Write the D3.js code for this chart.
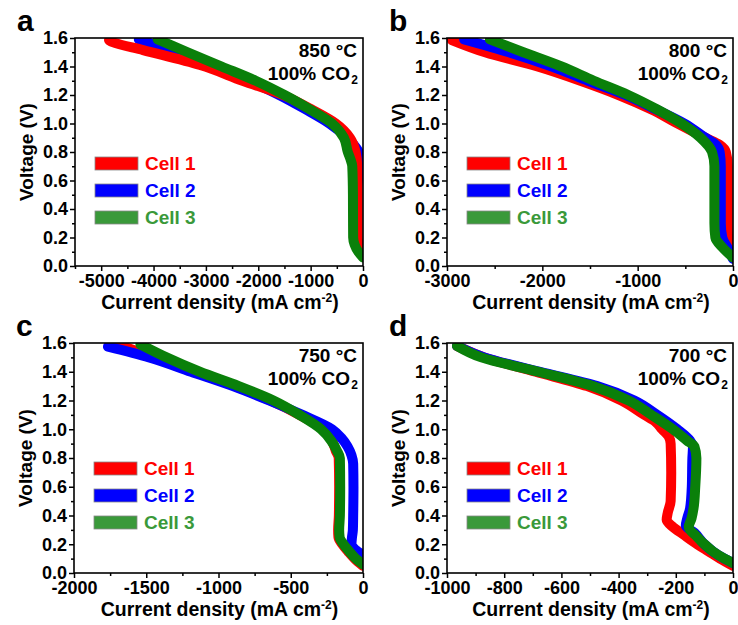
<!DOCTYPE html>
<html><head><meta charset="utf-8">
<script src="https://cdn.jsdelivr.net/npm/d3@7/dist/d3.min.js"></script>
<style>body{margin:0;background:#fff}svg{display:block}text{font-family:"Liberation Sans",Arial,sans-serif;font-weight:bold}</style>
</head><body><svg id="c" width="738" height="625"></svg>
<script>
// ---------- data: [current density (mA cm-2), voltage (V)] ----------
const cellNames = ["Cell 1", "Cell 2", "Cell 3"];
const temps = ["850 °C", "800 °C", "750 °C", "700 °C"];
const panelLetters = ["a", "b", "c", "d"];
const yTicks = [0.0, 0.2, 0.4, 0.6, 0.8, 1.0, 1.2, 1.4, 1.6];
const xTicksA = [-5000, -4000, -3000, -2000, -1000, 0];
const xTicksB = [-3000, -2000, -1000, 0];
const xTicksC = [-2000, -1500, -1000, -500, 0];
const xTicksD = [-1000, -800, -600, -400, -200, 0];

const a850_cell1 = [[-4850,1.585],[-4775,1.57],[-4200,1.515],[-3110,1.41],[-2300,1.3],[-1530,1.2],[-990,1.1],[-520,1.0],[-250,0.9],[-140,0.8],[-110,0.7],[-100,0.5],[-100,0.3],[-100,0.2],[-80,0.15],[-30,0.12],[0,0.11]];
const a850_cell2 = [[-4280,1.59],[-3550,1.5],[-2850,1.4],[-2180,1.3],[-1600,1.2],[-1100,1.1],[-640,1.0],[-300,0.9],[-80,0.8],[-30,0.75],[-60,0.68],[-110,0.55],[-120,0.3],[-110,0.18],[-50,0.11],[0,0.08]];
const a850_cell3 = [[-3920,1.59],[-3350,1.5],[-2700,1.4],[-2050,1.3],[-1500,1.2],[-1020,1.1],[-590,1.0],[-365,0.9],[-290,0.8],[-240,0.75],[-205,0.7],[-192,0.5],[-190,0.3],[-188,0.2],[-160,0.15],[-90,0.1],[0,0.06]];

const b800_cell1 = [[-2950,1.586],[-2600,1.5],[-2050,1.4],[-1600,1.3],[-1200,1.2],[-860,1.1],[-580,1.0],[-290,0.9],[-140,0.85],[-75,0.8],[-55,0.7],[-55,0.3],[-50,0.18],[-20,0.14],[0,0.12]];
const b800_cell2 = [[-2820,1.59],[-2350,1.5],[-1900,1.4],[-1520,1.3],[-1130,1.2],[-810,1.1],[-510,1.0],[-290,0.9],[-180,0.85],[-140,0.8],[-128,0.7],[-128,0.3],[-112,0.2],[-50,0.12],[0,0.05]];
const b800_cell3 = [[-2550,1.59],[-2200,1.5],[-1800,1.4],[-1460,1.3],[-1100,1.2],[-800,1.1],[-540,1.0],[-340,0.9],[-220,0.8],[-195,0.7],[-195,0.3],[-185,0.2],[-110,0.13],[0,0.06]];

const c750_cell1 = [[-1700,1.59],[-1440,1.5],[-1160,1.4],[-885,1.3],[-640,1.2],[-440,1.1],[-275,1.0],[-215,0.92],[-188,0.85],[-168,0.8],[-165,0.6],[-167,0.4],[-172,0.3],[-170,0.25],[-143,0.2],[-103,0.15],[-58,0.1],[0,0.05]];
const c750_cell2 = [[-1765,1.575],[-1480,1.5],[-1190,1.4],[-900,1.3],[-650,1.2],[-420,1.1],[-214,1.0],[-150,0.94],[-107,0.88],[-80,0.82],[-68,0.76],[-66,0.6],[-68,0.4],[-70,0.3],[-76,0.25],[-80,0.2],[-50,0.16],[0,0.125]];
const c750_cell3 = [[-1540,1.59],[-1360,1.5],[-1130,1.4],[-860,1.3],[-620,1.2],[-440,1.1],[-290,1.0],[-220,0.92],[-180,0.85],[-160,0.8],[-158,0.6],[-160,0.4],[-165,0.3],[-162,0.25],[-135,0.2],[-95,0.15],[-50,0.1],[0,0.06]];

const d700_cell1 = [[-965,1.58],[-870,1.5],[-690,1.4],[-510,1.3],[-390,1.2],[-310,1.1],[-270,1.05],[-248,1.0],[-225,0.95],[-218,0.9],[-216,0.7],[-218,0.5],[-228,0.42],[-232,0.37],[-210,0.32],[-175,0.27],[-125,0.2],[-85,0.15],[-45,0.1],[0,0.05]];
const d700_cell2 = [[-965,1.58],[-870,1.5],[-675,1.4],[-475,1.3],[-345,1.2],[-265,1.1],[-195,1.0],[-150,0.92],[-140,0.88],[-142,0.8],[-144,0.6],[-150,0.45],[-160,0.38],[-165,0.33],[-135,0.28],[-100,0.2],[-70,0.15],[-30,0.1],[0,0.07]];
const d700_cell3 = [[-965,1.58],[-880,1.5],[-680,1.4],[-490,1.3],[-365,1.2],[-285,1.1],[-210,1.0],[-160,0.92],[-135,0.88],[-128,0.8],[-132,0.6],[-138,0.45],[-145,0.38],[-155,0.32],[-125,0.25],[-100,0.2],[-70,0.15],[-30,0.1],[0,0.07]];

// ---------- layout ----------
const colors = ["#ff0000", "#0000ff", "#0a800a"];
const legendColors = ["#ff0000", "#0000ff", "#3a993a"];
const panels = [
  {left:75,  top:38,  right:363, bottom:266, xDomain:[-5500,0], xTicks:xTicksA, minorStep:500, order:[1,0,2], series:[a850_cell1,a850_cell2,a850_cell3]},
  {left:447, top:38,  right:733, bottom:266, xDomain:[-3000,0], xTicks:xTicksB, minorStep:500, order:[0,1,2], series:[b800_cell1,b800_cell2,b800_cell3]},
  {left:74,  top:343, right:363, bottom:573, xDomain:[-2000,0], xTicks:xTicksC, minorStep:250, order:[0,1,2], series:[c750_cell1,c750_cell2,c750_cell3]},
  {left:447, top:343, right:733, bottom:573, xDomain:[-1000,0], xTicks:xTicksD, minorStep:100, order:[0,1,2], series:[d700_cell1,d700_cell2,d700_cell3]}
];
const FONT = "Liberation Sans, Arial, sans-serif";
const svg = d3.select("#c");

panels.forEach((p, i) => {
  const x = d3.scaleLinear().domain(p.xDomain).range([p.left, p.right]);
  const y = d3.scaleLinear().domain([0, 1.6]).range([p.bottom, p.top]);
  const g = svg.append("g");

  const clipId = "clip" + i;
  svg.append("clipPath").attr("id", clipId).append("rect")
    .attr("x", p.left).attr("y", p.top).attr("width", p.right - p.left).attr("height", p.bottom - p.top);

  const line = d3.line().x(d => x(d[0])).y(d => y(d[1])).curve(d3.curveMonotoneY);
  const cg = g.append("g").attr("clip-path", `url(#${clipId})`);
  p.order.forEach(k => {
    cg.append("path").attr("d", line(p.series[k])).attr("fill", "none")
      .attr("stroke", colors[k]).attr("stroke-width", 10)
      .attr("stroke-linecap", "round").attr("stroke-linejoin", "round");
  });

  // frame
  g.append("rect").attr("x", p.left).attr("y", p.top)
    .attr("width", p.right - p.left).attr("height", p.bottom - p.top)
    .attr("fill", "none").attr("stroke", "#000").attr("stroke-width", 1.6);

  // x axis
  const xMinor = d3.range(p.xDomain[0], p.xDomain[1] + 1, p.minorStep).filter(v => !p.xTicks.includes(v));
  const xAx = g.append("g").attr("transform", `translate(0,${p.bottom})`)
    .call(d3.axisBottom(x).tickValues(p.xTicks).tickFormat(d => String(d)).tickSize(5).tickPadding(3));
  g.append("g").attr("transform", `translate(0,${p.bottom})`)
    .call(d3.axisBottom(x).tickValues(xMinor).tickFormat("").tickSize(3));
  // y axis
  const yMinor = d3.range(0.1, 1.6, 0.2);
  const yAx = g.append("g").attr("transform", `translate(${p.left},0)`)
    .call(d3.axisLeft(y).tickValues(yTicks).tickFormat(d3.format(".1f")).tickSize(5).tickPadding(2));
  g.append("g").attr("transform", `translate(${p.left},0)`)
    .call(d3.axisLeft(y).tickValues(yMinor).tickFormat("").tickSize(3));
  g.selectAll(".domain").remove();
  g.selectAll(".tick line").attr("stroke", "#000").attr("stroke-width", 1.5);
  [xAx, yAx].forEach(a => a.selectAll("text").attr("font-size", 18).attr("fill", "#000")
    .attr("font-family", FONT).attr("font-weight", "bold"));

  // axis titles
  const cx = (p.left + p.right) / 2;
  const xt = g.append("text").attr("x", cx + 1).attr("y", p.bottom + 43).attr("text-anchor", "middle").attr("font-size", 19.5);
  xt.append("tspan").text("Current density (mA cm");
  xt.append("tspan").text("-2").attr("font-size", 12).attr("dy", -7);
  xt.append("tspan").text(")").attr("dy", 7);

  const cy = (p.top + p.bottom) / 2;
  g.append("text").attr("transform", `translate(${p.left - 42},${cy}) rotate(-90)`)
    .attr("text-anchor", "middle").attr("font-size", 19).text("Voltage (V)");

  // panel letter
  g.append("text").attr("x", p.left - 58).attr("y", p.top - 7).attr("font-size", 30).text(panelLetters[i]);

  // annotation
  g.append("text").attr("x", p.right - 6).attr("y", p.top + 19).attr("text-anchor", "end").attr("font-size", 19).text(temps[i]);
  g.append("text").attr("x", p.right - 13).attr("y", p.top + 42).attr("text-anchor", "end").attr("font-size", 19).text("100% CO");
  g.append("text").attr("x", p.right - 5).attr("y", p.top + 46).attr("text-anchor", "end").attr("font-size", 12).text("2");

  // legend
  cellNames.forEach((n, k) => {
    const ly = p.top + 119 + k * 27;
    g.append("rect").attr("x", p.left + 20).attr("y", ly).attr("width", 43).attr("height", 13)
      .attr("fill", legendColors[k]).attr("stroke", "#888").attr("stroke-width", 0.8);
    g.append("text").attr("x", p.left + 70).attr("y", ly + 13).attr("font-size", 19)
      .attr("fill", legendColors[k]).text(n);
  });
});
</script></body></html>
